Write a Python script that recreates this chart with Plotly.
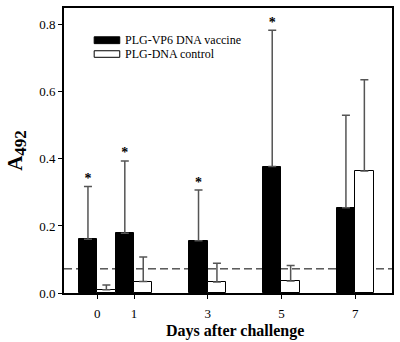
import plotly.graph_objects as go

days = [0, 1, 3, 5, 7]
vaccine_name = "PLG-VP6 DNA vaccine"
control_name = "PLG-DNA control"
vaccine_mean = [0.160, 0.178, 0.156, 0.377, 0.254]
vaccine_upper = [0.318, 0.394, 0.307, 0.784, 0.530]
control_mean = [0.010, 0.034, 0.033, 0.036, 0.364]
control_upper = [0.024, 0.107, 0.089, 0.082, 0.636]
significant = [True, True, True, True, False]
cutoff = 0.072
y_ticks = [0.0, 0.2, 0.4, 0.6, 0.8]

FONT = "Liberation Serif"
ERR_COLOR = "#555555"

fig = go.Figure()
fig.add_trace(go.Bar(
    x=days, y=vaccine_mean, name=vaccine_name,
    marker=dict(color="black", line=dict(color="black", width=1)),
    error_y=dict(type="data", symmetric=False,
                 array=[u - m for u, m in zip(vaccine_upper, vaccine_mean)],
                 arrayminus=[0] * len(days),
                 color=ERR_COLOR, thickness=1.5, width=4),
    showlegend=False,
))
fig.add_trace(go.Bar(
    x=days, y=control_mean, name=control_name,
    marker=dict(color="white", line=dict(color="black", width=1)),
    error_y=dict(type="data", symmetric=False,
                 array=[u - m for u, m in zip(control_upper, control_mean)],
                 arrayminus=[0] * len(days),
                 color=ERR_COLOR, thickness=1.5, width=4),
    showlegend=False,
))
# significance asterisks above vaccine error bars
sx = [d - 0.25 for d, s in zip(days, significant) if s]
sy = [u for u, s in zip(vaccine_upper, significant) if s]
fig.add_trace(go.Scatter(
    x=sx, y=sy, mode="text", text=["*"] * len(sx),
    textposition="top center",
    textfont=dict(family=FONT, size=14, color="black", weight="bold"),
    showlegend=False, hoverinfo="skip",
))

fig.add_shape(type="line", xref="paper", yref="y", x0=0, x1=1, y0=cutoff, y1=cutoff,
              line=dict(color="black", width=1, dash="8px,4px"), layer="below")

# manual legend
sw = [(0.092, 0.170, 0.875, 0.899, "black"), (0.092, 0.170, 0.827, 0.850, "white")]
for x0, x1, y0, y1, c in sw:
    fig.add_shape(type="rect", xref="paper", yref="paper", x0=x0, x1=x1, y0=y0, y1=y1,
                  fillcolor=c, line=dict(color="black", width=1))
for name, yc in [(vaccine_name, 0.887), (control_name, 0.838)]:
    fig.add_annotation(xref="paper", yref="paper", x=0.180, y=yc, text=name,
                       showarrow=False, xanchor="left", yanchor="middle",
                       font=dict(family=FONT, size=12, color="black"))

# x axis title
fig.add_annotation(xref="paper", yref="paper", x=0.521, y=-0.135, text="<b>Days after challenge</b>",
                   showarrow=False, xanchor="center", yanchor="middle",
                   font=dict(family=FONT, size=16, color="black"))

fig.update_layout(
    width=400, height=342,
    margin=dict(l=64, r=6, t=7, b=49),
    paper_bgcolor="white", plot_bgcolor="white",
    barmode="group", bargap=0, bargroupgap=0,
    font=dict(family=FONT, color="black"),
)
fig.update_xaxes(
    range=[-0.9, 8.0], tickvals=days, ticktext=[str(d) for d in days],
    ticks="outside", ticklen=4, tickwidth=1, tickcolor="black",
    showline=True, linecolor="black", linewidth=2, mirror=True,
    showgrid=False, zeroline=False,
    tickfont=dict(family=FONT, size=13, color="black"), ticklabelstandoff=3,
)
fig.update_yaxes(
    range=[0, 0.85], tickvals=y_ticks, tickformat=".1f",
    ticks="outside", ticklen=4, tickwidth=1, tickcolor="black",
    showline=True, linecolor="black", linewidth=2, mirror=True,
    showgrid=False, zeroline=False,
    tickfont=dict(family=FONT, size=13, color="black"),
    title=dict(text="<b>A<sub><span style='font-size:17px'>492</span></sub></b>",
               font=dict(family=FONT, size=21, color="black"), standoff=11),
)

fig.write_html("out.html", config={"displayModeBar": False},
               post_script="document.body.style.margin='0';document.body.style.padding='0';")
